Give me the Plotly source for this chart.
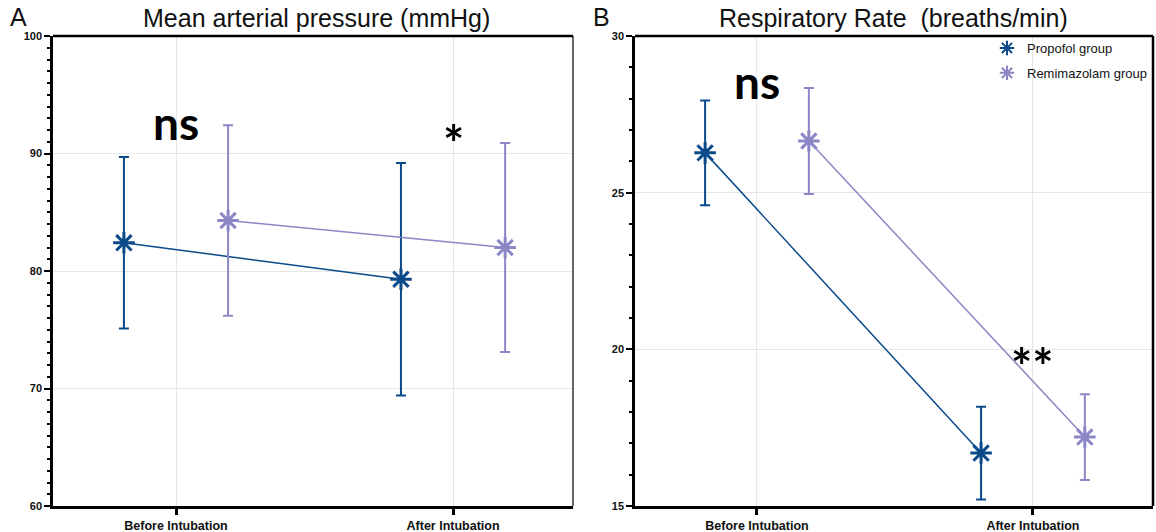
import plotly.graph_objects as go

categories = ["Before Intubation", "After Intubation"]
groups = ["Propofol group", "Remimazolam group"]
colors = ["#0B4A8A", "#8B86C6"]

map_mean = {"Propofol group": [82.4, 79.3], "Remimazolam group": [84.3, 82.0]}
map_sd = {"Propofol group": [7.3, 9.9], "Remimazolam group": [8.1, 8.9]}

rr_mean = {"Propofol group": [26.27, 16.69], "Remimazolam group": [26.65, 17.2]}
rr_sd = {"Propofol group": [1.67, 1.48], "Remimazolam group": [1.69, 1.37]}

offsets = {"Propofol group": -0.188, "Remimazolam group": 0.188}

W, H = 1156, 532
fig = go.Figure()

for gi, g in enumerate(groups):
    for panel, (means, sds) in enumerate([(map_mean, map_sd), (rr_mean, rr_sd)]):
        xs = [i + offsets[g] for i in range(len(categories))]
        fig.add_trace(go.Scatter(
            x=xs, y=means[g], mode="lines+markers", name=g,
            showlegend=False,
            xaxis="x" if panel == 0 else "x2", yaxis="y" if panel == 0 else "y2",
            line=dict(color=colors[gi], width=1.5),
            marker=dict(symbol="asterisk-open", size=18, color=colors[gi],
                        line=dict(color=colors[gi], width=3)),
            error_y=dict(type="data", array=sds[g], visible=True,
                         color=colors[gi], thickness=2, width=5),
        ))
    # legend entry (marker only)
    fig.add_trace(go.Scatter(
        x=[None], y=[None], mode="markers", name=g, legendgroup=g,
        xaxis="x2", yaxis="y2",
        marker=dict(symbol="asterisk-open", size=18, color=colors[gi],
                    line=dict(color=colors[gi], width=3.5)),
    ))

def px_x(v):
    return v / W

def px_y(v):
    return 1 - v / H

common_x = dict(tickmode="array", tickvals=[0, 1], ticktext=categories,
                showgrid=True, gridcolor="#E6E6E6", gridwidth=1,
                showline=True, linecolor="black", linewidth=2.5,
                ticks="outside", ticklen=6, tickwidth=2.5, tickcolor="black",
                tickfont=dict(family="Liberation Sans, Arial", size=12.5, color="#111111", weight="bold"),
                zeroline=False, automargin=False, range=[-0.444, 1.433])
common_y = dict(showgrid=True, gridcolor="#E6E6E6", gridwidth=1,
                showline=True, linecolor="black", linewidth=2.5,
                ticks="outside", ticklen=6, tickwidth=2, tickcolor="black",
                tickfont=dict(family="Liberation Sans, Arial", size=11, color="#111111", weight="bold"),
                minor=dict(dtick=1, ticks="outside", ticklen=3, tickwidth=2, tickcolor="black", showgrid=False),
                zeroline=False, automargin=False)

fig.update_layout(
    width=W, height=H, margin=dict(l=0, r=0, t=0, b=0),
    paper_bgcolor="white", plot_bgcolor="white",
    xaxis=dict(common_x, domain=[px_x(53), px_x(573)], anchor="y"),
    yaxis=dict(common_y, domain=[px_y(506), px_y(36)], range=[60, 100], dtick=10, anchor="x"),
    xaxis2=dict(common_x, domain=[px_x(635), px_x(1153)], anchor="y2", range=[-0.442, 1.435]),
    yaxis2=dict(common_y, domain=[px_y(506), px_y(36)], range=[15, 30], dtick=5, anchor="x2"),
    legend=dict(x=px_x(987), y=px_y(33), xanchor="left", yanchor="top",
                bgcolor="rgba(0,0,0,0)", font=dict(family="Liberation Sans, Arial", size=13, color="#111111"),
                itemsizing="constant", tracegroupgap=5),
    showlegend=True,
)

shapes = [
    dict(type="line", xref="paper", yref="paper", x0=px_x(53), x1=px_x(573), y0=px_y(36), y1=px_y(36),
         line=dict(color="black", width=2.5)),
    dict(type="line", xref="paper", yref="paper", x0=px_x(573), x1=px_x(573), y0=px_y(36), y1=px_y(506),
         line=dict(color="black", width=1.2)),
    dict(type="line", xref="paper", yref="paper", x0=px_x(635), x1=px_x(1153), y0=px_y(36), y1=px_y(36),
         line=dict(color="black", width=2.5)),
    dict(type="line", xref="paper", yref="paper", x0=px_x(1153), x1=px_x(1153), y0=px_y(36), y1=px_y(506),
         line=dict(color="black", width=2.5)),
]
fig.update_layout(shapes=shapes)

title_font = dict(family="Liberation Sans, Arial", size=25, color="#111111")
sig_font = dict(family="Lato, Open Sans", size=46, color="black", weight="bold")
star_font = dict(family="Lato, Open Sans", size=50, color="black", weight="bold")
annotations = [
    dict(text="Mean arterial pressure (mmHg)", x=px_x(316), y=px_y(18), xref="paper", yref="paper",
         showarrow=False, font=title_font, xanchor="center", yanchor="middle"),
    dict(text="Respiratory Rate&nbsp; (breaths/min)", x=px_x(893), y=px_y(18), xref="paper", yref="paper",
         showarrow=False, font=title_font, xanchor="center", yanchor="middle"),
    dict(text="A", x=px_x(18), y=px_y(17), xref="paper", yref="paper",
         showarrow=False, font=title_font, xanchor="center", yanchor="middle"),
    dict(text="B", x=px_x(601), y=px_y(17), xref="paper", yref="paper",
         showarrow=False, font=title_font, xanchor="center", yanchor="middle"),
    dict(text="ns", x=0, y=92.6, xref="x", yref="y", showarrow=False, font=sig_font),
    dict(text="*", x=1, y=90.9, xref="x", yref="y", showarrow=False, font=star_font),
    dict(text="ns", x=0, y=28.55, xref="x2", yref="y2", showarrow=False, font=sig_font),
    dict(text="**", x=1, y=19.47, xref="x2", yref="y2", showarrow=False, font=star_font),
]
fig.update_layout(annotations=annotations)

fig.write_html("out.html", config={"displayModeBar": False},
               post_script="document.body.style.margin='0';document.body.style.padding='0';")
